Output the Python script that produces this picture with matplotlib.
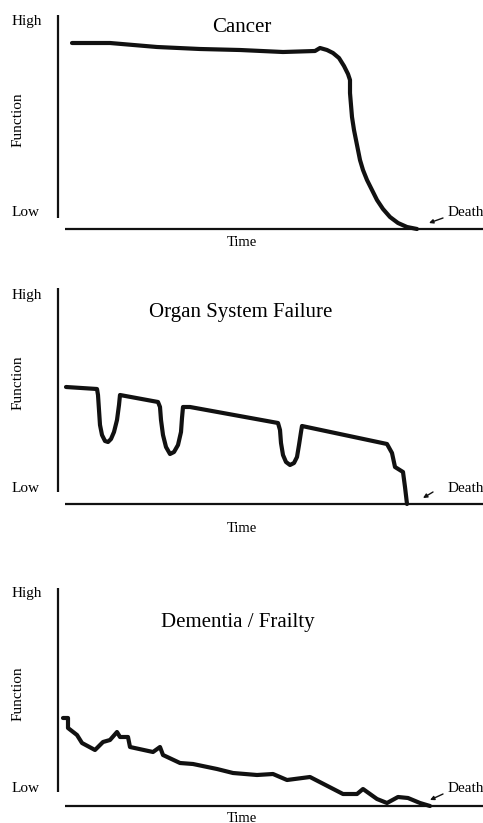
import matplotlib
matplotlib.use("Agg")
import matplotlib.pyplot as plt

plt.rcParams['font.family'] = ['Liberation Serif', 'DejaVu Serif']

# ---- data: time (arbitrary units) vs function (height above "dead" baseline) ----
cancer_t = [14, 52, 99, 142, 182, 225, 257, 262, 269, 275, 281, 286, 290, 292, 292, 293, 294, 296,
            299, 302, 305, 309, 314, 319, 325, 332, 340, 349, 359]
cancer_f = [186, 186, 182, 180, 179, 177, 178, 181, 179, 176, 171, 163, 155, 149, 136, 124, 112, 99,
            84, 69, 59, 49, 39, 29, 20, 12, 6, 2, 0]

organ_t = [8, 39, 40, 41, 42, 44, 47, 50, 53, 56, 59, 61, 62,
           100, 102, 103, 105, 108, 112, 116, 120, 123, 124, 125, 132,
           220, 222, 223, 225, 228, 232, 236, 239, 241, 243, 244,
           329, 334, 337, 345, 347, 349]
organ_f = [117, 115, 109, 94, 79, 69, 63, 62, 65, 72, 84, 99, 109,
           102, 97, 84, 69, 57, 50, 52, 59, 72, 86, 97, 97,
           81, 74, 61, 49, 42, 39, 41, 47, 59, 72, 78,
           60, 51, 37, 32, 17, 0]

dementia_t = [5, 10, 10, 19, 24, 37, 45, 52, 59, 62, 70, 72, 95, 102, 105, 122, 135, 159, 175, 199,
              215, 229, 252, 285, 299, 305, 319, 329, 340, 350, 362, 372]
dementia_f = [88, 88, 78, 71, 63, 56, 64, 66, 74, 69, 69, 59, 54, 59, 51, 43, 42, 37, 33, 31,
              32, 26, 29, 12, 12, 17, 7, 3, 9, 8, 3, 0]

titles = ["Cancer", "Organ System Failure", "Dementia / Frailty"]
series = [(cancer_t, cancer_f), (organ_t, organ_f), (dementia_t, dementia_f)]

# layout (pixels)
W, H = 483, 823
baselines = [229, 504, 806]          # y pixel of the time axis line in each panel
vbounds = [(11, 214), (12, 216), (14, 218)]
high_f = [207, 209, 212]
low_f = [16, 15, 18]
func_f = [109, 121, 112]
title_pos = [(184, 202), (183, 191), (180, 183)]
time_f = [-14, -24, -12]
death_f = [16, 15, 18]
arrow_tail = [(385, 11), (375, 12), (385, 12)]
arrow_head = [(371, 6), (365, 6), (372, 6)]

fig = plt.figure(figsize=(W / 100, H / 100), dpi=100)
fig.patch.set_facecolor("white")

XMAX, YMAX = 425, 220
for i in range(3):
    ax = fig.add_axes([58 / W, (H - baselines[i]) / H, XMAX / W, YMAX / H])
    ax.set_xlim(0, XMAX)
    ax.set_ylim(0, YMAX)
    ax.axis("off")

    # axes lines
    ax.plot([0, 0], list(vbounds[i]), color="#111111", lw=1.6, clip_on=False,
            solid_capstyle="butt")
    ax.plot([7, 440], [0, 0], color="#111111", lw=1.6, clip_on=False, solid_capstyle="butt")

    t, f = series[i]
    ax.plot(t, f, color="#111111", lw=3.0, solid_capstyle="round", solid_joinstyle="round",
            clip_on=False)

    ax.text(-46, high_f[i], "High", fontsize=11, ha="left", va="center")
    ax.text(-46, low_f[i], "Low", fontsize=11, ha="left", va="center")
    ax.text(-40, func_f[i], "Function", fontsize=11, rotation=90, ha="center", va="center")
    ax.text(title_pos[i][0], title_pos[i][1], titles[i], fontsize=15, ha="center", va="center")
    ax.text(184, time_f[i], "Time", fontsize=10.5, ha="center", va="center")
    ax.text(390, death_f[i], "Death", fontsize=11, ha="left", va="center", clip_on=False)
    ax.annotate("", xy=arrow_head[i], xytext=arrow_tail[i],
                arrowprops=dict(arrowstyle="-|>", color="#111111", lw=1.0,
                                mutation_scale=6, shrinkA=0, shrinkB=0))

fig.savefig("out.png", dpi=100, facecolor="white")
